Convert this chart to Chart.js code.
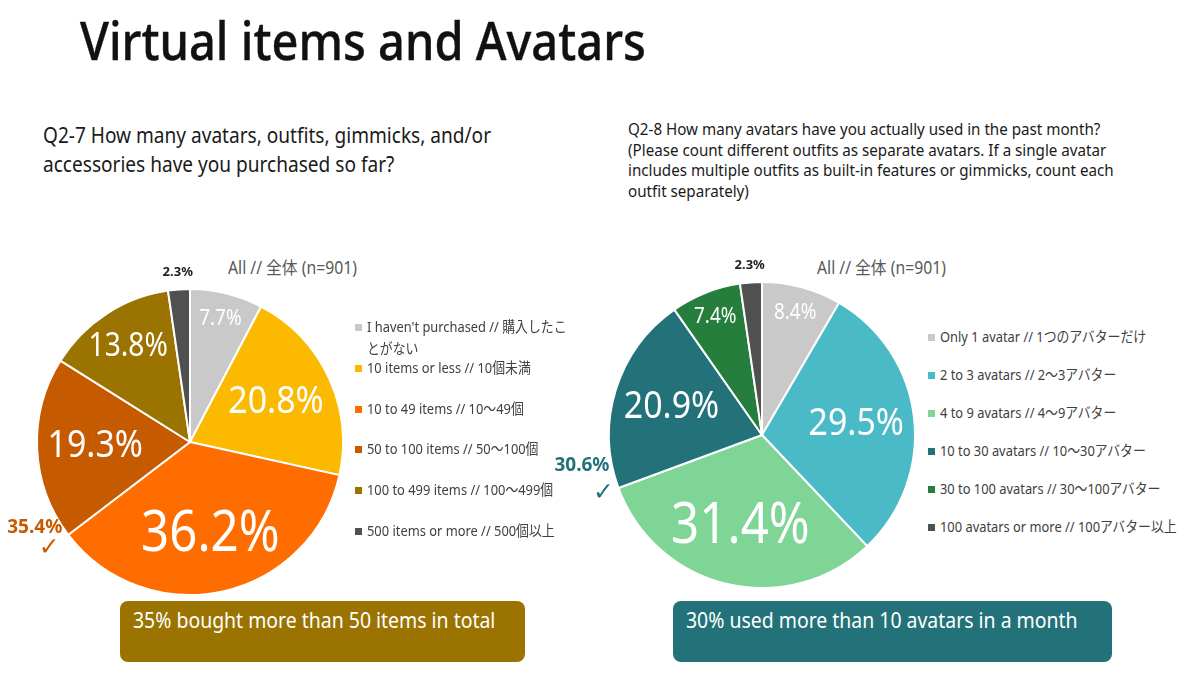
<!DOCTYPE html>
<html>
<head>
<meta charset="utf-8">
<title>Virtual items and Avatars</title>
<script src="https://cdn.jsdelivr.net/npm/chart.js@4.4.1/dist/chart.umd.min.js"></script>
<style>
  body {
    margin: 0;
    width: 1200px;
    height: 675px;
    position: relative;
    overflow: hidden;
    background: #fff;
    font-family: "Noto Sans", "Noto Sans CJK JP", sans-serif;
    color: #1a1a1a;
  }
  .abs { position: absolute; white-space: nowrap; }
  .sq { transform: scaleX(0.9); transform-origin: 0 0; }
  #title { left: 80px; top: 13px; font-size: 53px; line-height: 53px; font-weight: 500; color: #111; transform: scaleX(0.887); transform-origin: 0 0; -webkit-text-stroke: 0.4px #111; }
  #q1 { left: 43px; top: 120px; font-size: 21.2px; line-height: 29px; }
  #q2 { left: 628px; top: 119px; font-size: 16.85px; line-height: 20.5px; }
  .base { font-size: 17.5px; line-height: 18px; color: #595959; }
  canvas { position: absolute; }
  .legend .row { position: absolute; font-size: 14.3px; line-height: 22px; color: #404040; }
  .legend .box { position: absolute; width: 7px; height: 7px; }
  .note { position: absolute; top: 601px; height: 61px; border-radius: 8px; }
  .note span { position: absolute; left: 13px; top: 8px; font-size: 21.6px; line-height: 21px; color: #fff; white-space: nowrap; }
</style>
</head>
<body>

<div id="title" class="abs">Virtual items and Avatars</div>
<div id="q1" class="abs sq">Q2-7 How many avatars, outfits, gimmicks, and/or<br>accessories have you purchased so far?</div>
<div id="q2" class="abs sq">Q2-8 How many avatars have you actually used in the past month?<br>(Please count different outfits as separate avatars. If a single avatar<br>includes multiple outfits as built-in features or gimmicks, count each<br>outfit separately)</div>

<div class="abs base sq" style="left:228px; top:258px;">All // 全体 (n=901)</div>
<div class="abs base sq" style="left:817px; top:258px;">All // 全体 (n=901)</div>

<canvas id="purchaseChart" width="350" height="345" style="left:0; top:255px;"></canvas>
<canvas id="avatarChart" width="380" height="345" style="left:540px; top:255px;"></canvas>

<div id="purchaseLegend" class="legend"></div>
<div id="avatarLegend" class="legend"></div>

<div class="note" style="left:120px; width:405px; background:#9A7300;"><span class="sq">35% bought more than 50 items in total</span></div>
<div class="note" style="left:673px; width:439px; background:#23727A;"><span class="sq">30% used more than 10 avatars in a month</span></div>

<script>
// Q2-7 purchases
const purchaseCategories = [
  "I haven't purchased // 購入したことがない",
  "10 items or less // 10個未満",
  "10 to 49 items // 10〜49個",
  "50 to 100 items // 50〜100個",
  "100 to 499 items // 100〜499個",
  "500 items or more // 500個以上"
];
const purchaseShares = [7.7, 20.8, 36.2, 19.3, 13.8, 2.3];
const purchaseColors = ['#C9C9C9', '#FBBA00', '#FF6D00', '#C65A00', '#9A7300', '#505050'];

// Q2-8 avatars used
const avatarCategories = [
  "Only 1 avatar // 1つのアバターだけ",
  "2 to 3 avatars // 2〜3アバター",
  "4 to 9 avatars // 4〜9アバター",
  "10 to 30 avatars // 10〜30アバター",
  "30 to 100 avatars // 30〜100アバター",
  "100 avatars or more // 100アバター以上"
];
const avatarShares = [8.4, 29.5, 31.4, 20.9, 7.4, 2.3];
const avatarColors = ['#C9C9C9', '#4BBAC7', '#7ED596', '#23727A', '#267E3C', '#505050'];

// percent labels on the slices + the summed callout with a check mark
const sliceLabels = {
  id: 'sliceLabels',
  afterDatasetsDraw(chart, args, opts) {
    const ctx = chart.ctx;
    const meta = chart.getDatasetMeta(0);
    const values = chart.data.datasets[0].data;
    ctx.save();
    ctx.textAlign = 'center';
    ctx.textBaseline = 'middle';

    meta.data.forEach((arc, i) => {
      const p = arc.getProps(['x', 'y', 'startAngle', 'endAngle', 'outerRadius'], true);
      const mid = (p.startAngle + p.endAngle) / 2;
      const v = values[i];
      const text = v.toFixed(1) + '%';
      let r, size, squeeze = 0.88;
      if (v < 5) {
        r = p.outerRadius + 17;
        ctx.font = 'bold 13px "Noto Sans"';
        ctx.fillStyle = '#222';
        squeeze = 1;
      } else {
        r = p.outerRadius * (v < 10 ? 0.83 : v < 15 ? 0.74 : 0.62);
        size = v >= 30 ? 56 : v >= 18 ? 38.5 : v >= 10 ? 32 : 21.5;
        ctx.font = size + 'px "Noto Sans"';
        ctx.fillStyle = '#fff';
      }
      ctx.save();
      ctx.translate(p.x + Math.cos(mid) * r, p.y + Math.sin(mid) * r);
      ctx.scale(squeeze, 1);
      ctx.fillText(text, 0, 0);
      ctx.restore();
    });

    const c = opts.callout;
    if (c) {
      const total = values.slice(c.from).reduce((a, b) => a + b, 0);
      const p = meta.data[c.from].getProps(['x', 'y', 'startAngle', 'outerRadius'], true);
      const bx = p.x + Math.cos(p.startAngle) * p.outerRadius;
      const by = p.y + Math.sin(p.startAngle) * p.outerRadius;
      ctx.fillStyle = c.color;
      ctx.textAlign = 'right';
      ctx.font = 'bold 19px "Noto Sans"';
      ctx.fillText(total.toFixed(1) + '%', bx + c.dx, by + c.dy);
      ctx.textAlign = 'center';
      ctx.font = '25px "DejaVu Sans"';
      ctx.fillText('\u2713', bx + c.cx, by + c.cy);
    }
    ctx.restore();
  }
};

function makePie(id, values, colors, padding, callout) {
  return new Chart(document.getElementById(id), {
    type: 'pie',
    data: {
      datasets: [{
        data: values,
        backgroundColor: colors,
        borderColor: '#fff',
        borderWidth: 2,
        hoverBorderWidth: 2,
        hoverOffset: 0,
        offset: 0
      }]
    },
    options: {
      responsive: false,
      animation: false,
      events: [],
      layout: { padding: padding },
      plugins: {
        legend: { display: false },
        tooltip: { enabled: false },
        sliceLabels: { callout: callout }
      }
    },
    plugins: [sliceLabels]
  });
}

makePie('purchaseChart', purchaseShares, purchaseColors,
  { left: 36, top: 33, right: 6, bottom: 4 },
  { from: 3, color: '#C65A00', dx: -6, dy: -7, cx: -19, cy: 14 });

makePie('avatarChart', avatarShares, avatarColors,
  { left: 68, top: 26, right: 4, bottom: 11 },
  { from: 3, color: '#23727A', dx: -9, dy: -22, cx: -15, cy: 5 });

// html legends, one row per category
function buildLegend(id, categories, colors, x, y0, step, wrapWidth) {
  const holder = document.getElementById(id);
  categories.forEach((label, i) => {
    const top = y0 + i * step;
    const box = document.createElement('div');
    box.className = 'box';
    box.style.left = x + 'px';
    box.style.top = (top + 8) + 'px';
    box.style.background = colors[i];
    holder.appendChild(box);

    const row = document.createElement('div');
    row.className = 'row sq';
    row.style.left = (x + 12) + 'px';
    row.style.top = top + 'px';
    row.style.width = wrapWidth + 'px';
    row.textContent = label;
    holder.appendChild(row);
  });
}

buildLegend('purchaseLegend', purchaseCategories, purchaseColors, 355, 316, 40.8, 236);
buildLegend('avatarLegend', avatarCategories, avatarColors, 928, 326, 38, 300);
</script>
</body>
</html>
